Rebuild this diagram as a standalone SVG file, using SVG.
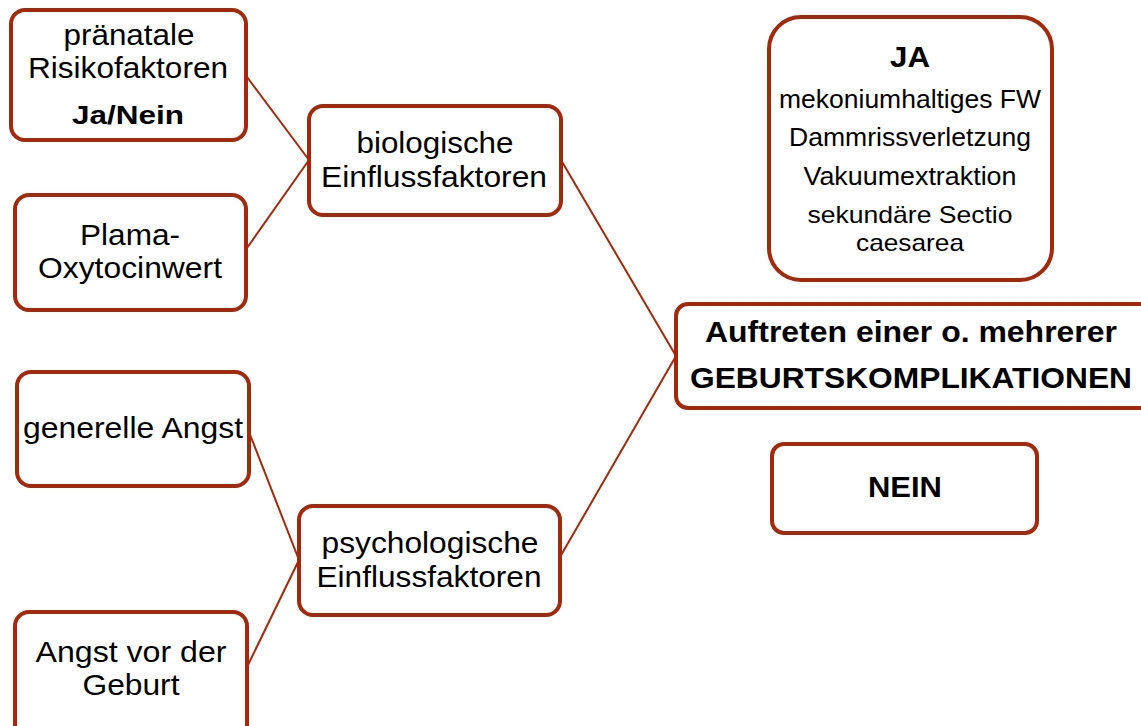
<svg xmlns="http://www.w3.org/2000/svg" width="1141" height="726" viewBox="0 0 1141 726">
<style>
.box{fill:#fff;stroke:#A3290D;stroke-width:4}
.con{stroke:#A3290D;stroke-width:2;fill:none}
text{font-family:"Liberation Sans",Arial,sans-serif;fill:#000;text-anchor:middle}
.r{font-size:30px}
.s{font-size:25px}
.t{font-size:24px}
.b{font-size:29px;font-weight:bold}
</style>
<rect width="1141" height="726" fill="#fff"/>
<g id="connectors">
<line class="con" x1="247" y1="77" x2="309" y2="160"/>
<line class="con" x1="247" y1="248" x2="309" y2="160"/>
<line class="con" x1="561" y1="160" x2="676" y2="356"/>
<line class="con" x1="249" y1="432" x2="299" y2="560"/>
<line class="con" x1="248" y1="665" x2="299" y2="560"/>
<line class="con" x1="560" y1="557" x2="676" y2="356"/>
</g>
<g id="praenatal">
<rect class="box" x="11" y="10" width="235" height="130" rx="14"/>
<text class="r" x="129" y="45" textLength="131" lengthAdjust="spacingAndGlyphs">pränatale</text>
<text class="r" x="128" y="78" textLength="200" lengthAdjust="spacingAndGlyphs">Risikofaktoren</text>
<text class="b" x="128" y="124" style="font-size:26px" textLength="112" lengthAdjust="spacingAndGlyphs">Ja/Nein</text>
</g>
<g id="plama">
<rect class="box" x="15" y="195" width="231" height="115" rx="14"/>
<text class="r" x="130" y="245" textLength="100" lengthAdjust="spacingAndGlyphs">Plama-</text>
<text class="r" x="130" y="278" textLength="184" lengthAdjust="spacingAndGlyphs">Oxytocinwert</text>
</g>
<g id="bio">
<rect class="box" x="309" y="106" width="252" height="109" rx="14"/>
<text class="r" x="435" y="153" textLength="157" lengthAdjust="spacingAndGlyphs">biologische</text>
<text class="r" x="434" y="187" textLength="226" lengthAdjust="spacingAndGlyphs">Einflussfaktoren</text>
</g>
<g id="ja">
<rect class="box" x="769" y="17" width="283" height="263" rx="32"/>
<text class="b" x="910" y="67" style="font-size:30px" textLength="40" lengthAdjust="spacingAndGlyphs">JA</text>
<text class="s" x="910" y="108" textLength="262" lengthAdjust="spacingAndGlyphs">mekoniumhaltiges FW</text>
<text class="s" x="910" y="146" textLength="242" lengthAdjust="spacingAndGlyphs">Dammrissverletzung</text>
<text class="s" x="910" y="185" textLength="213" lengthAdjust="spacingAndGlyphs">Vakuumextraktion</text>
<text class="t" x="910" y="223" textLength="205" lengthAdjust="spacingAndGlyphs">sekundäre Sectio</text>
<text class="t" x="910" y="251" textLength="108" lengthAdjust="spacingAndGlyphs">caesarea</text>
</g>
<g id="auftreten">
<rect class="box" x="676" y="304" width="480" height="104" rx="12"/>
<text class="b" x="911" y="342" textLength="412" lengthAdjust="spacingAndGlyphs">Auftreten einer o. mehrerer</text>
<text class="b" x="911" y="388" style="font-size:30px" textLength="442" lengthAdjust="spacingAndGlyphs">GEBURTSKOMPLIKATIONEN</text>
</g>
<g id="nein">
<rect class="box" x="772" y="444" width="265" height="89" rx="12"/>
<text class="b" x="905" y="497" style="font-size:30px" textLength="74" lengthAdjust="spacingAndGlyphs">NEIN</text>
</g>
<g id="generell">
<rect class="box" x="17" y="372" width="232" height="114" rx="14"/>
<text class="r" x="133" y="438" textLength="220" lengthAdjust="spacingAndGlyphs">generelle Angst</text>
</g>
<g id="psycho">
<rect class="box" x="299" y="506" width="261" height="109" rx="14"/>
<text class="r" x="430" y="553" textLength="217" lengthAdjust="spacingAndGlyphs">psychologische</text>
<text class="r" x="429" y="587" textLength="225" lengthAdjust="spacingAndGlyphs">Einflussfaktoren</text>
</g>
<g id="angst">
<rect class="box" x="15" y="612" width="232" height="130" rx="14"/>
<text class="r" x="131" y="662" textLength="191" lengthAdjust="spacingAndGlyphs">Angst vor der</text>
<text class="r" x="131" y="695" textLength="97" lengthAdjust="spacingAndGlyphs">Geburt</text>
</g>
</svg>
